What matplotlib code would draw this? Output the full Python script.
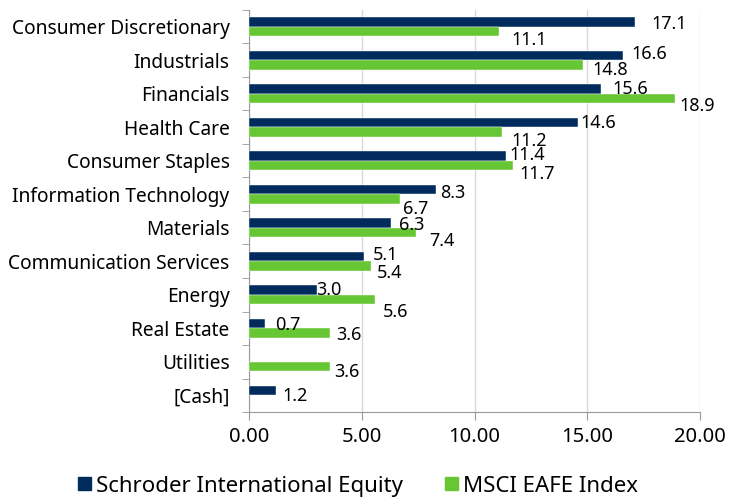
import numpy as np
import matplotlib.pyplot as plt
from matplotlib.patches import Patch

plt.rcParams['font.family'] = ['Noto Sans', 'DejaVu Sans']

sectors = ['Consumer Discretionary', 'Industrials', 'Financials', 'Health Care',
           'Consumer Staples', 'Information Technology', 'Materials',
           'Communication Services', 'Energy', 'Real Estate', 'Utilities', '[Cash]']
fund = [17.1, 16.6, 15.6, 14.6, 11.4, 8.3, 6.3, 5.1, 3.0, 0.7, None, 1.2]
index = [11.1, 14.8, 18.9, 11.2, 11.7, 6.7, 7.4, 5.4, 5.6, 3.6, 3.6, None]
xticks = [0, 5, 10, 15, 20]

# label nudges in pixels (dx right of bar end, dy up from bar centre)
fund_dx = [17, 8, 12, 2, 3, 4, 8, 9, 0, 10, 0, 6]
fund_dy = [-2.5, 1, -0.2, -0.4, 0.8, -3.4, -1.9, 1.2, -0.2, -1.4, 0, -5.4]
index_dx = [12, 10, 4, 10, 7, 3, 13, 6, 8, 6, 4, 0]
index_dy = [-8.1, -4.4, -6.9, -8.6, -8.2, -9.6, -8.1, -7.2, -12.1, -2.3, -5.1, 0]

NAVY = '#002B5C'
GREEN = '#66C633'

fig = plt.figure(figsize=(7.31, 4.98), dpi=100)
ax = fig.add_axes([249 / 731, 86 / 498, (700 - 249) / 731, 402 / 498])

n = len(sectors)
y = np.arange(n)[::-1].astype(float)
h = 0.29
px = 72 / 100  # pixels -> points

for i in range(n):
    if fund[i] is not None:
        ax.barh(y[i] + h / 2, fund[i], height=h, color=NAVY, edgecolor='white', linewidth=0.3, zorder=3)
        ax.annotate(f'{fund[i]:.1f}', (fund[i], y[i] + h / 2),
                    xytext=(fund_dx[i] * px, fund_dy[i] * px),
                    textcoords='offset points', va='center', ha='left', fontsize=13, zorder=4)
    if index[i] is not None:
        ax.barh(y[i] - h / 2, index[i], height=h, color=GREEN, edgecolor='white', linewidth=0.3, zorder=3)
        ax.annotate(f'{index[i]:.1f}', (index[i], y[i] - h / 2),
                    xytext=(index_dx[i] * px, index_dy[i] * px),
                    textcoords='offset points', va='center', ha='left', fontsize=13, zorder=4)

ax.set_xlim(0, 20)
ax.set_ylim(-0.5, n - 0.5)
ax.set_xticks(xticks)
ax.set_xticklabels([f'{v:.2f}' for v in xticks], fontsize=14.5)
ax.set_yticks(y)
ax.set_yticklabels(sectors, fontsize=13.8)
ax.set_yticks(np.arange(n + 1) - 0.5, minor=True)
ax.tick_params(axis='y', which='major', length=0, pad=14)
ax.tick_params(axis='y', which='minor', length=5, color='#999999')
ax.tick_params(axis='x', length=6, color='#999999', pad=5)
ax.grid(axis='x', color='#d9d9d9', linewidth=1, zorder=0)

for s in ['top', 'right']:
    ax.spines[s].set_visible(False)
ax.spines['left'].set_color('#999999')
ax.spines['bottom'].set_color('#999999')

handles = [Patch(color=NAVY, label='Schroder International Equity'),
           Patch(color=GREEN, label='MSCI EAFE Index')]
fig.legend(handles=handles, loc='center', ncol=2, frameon=False, fontsize=16,
           bbox_to_anchor=(0.49, 12 / 498), handlelength=0.55, handleheight=0.55,
           handletextpad=0.25, columnspacing=1.9, borderpad=0)

fig.savefig('out.png', dpi=100)
